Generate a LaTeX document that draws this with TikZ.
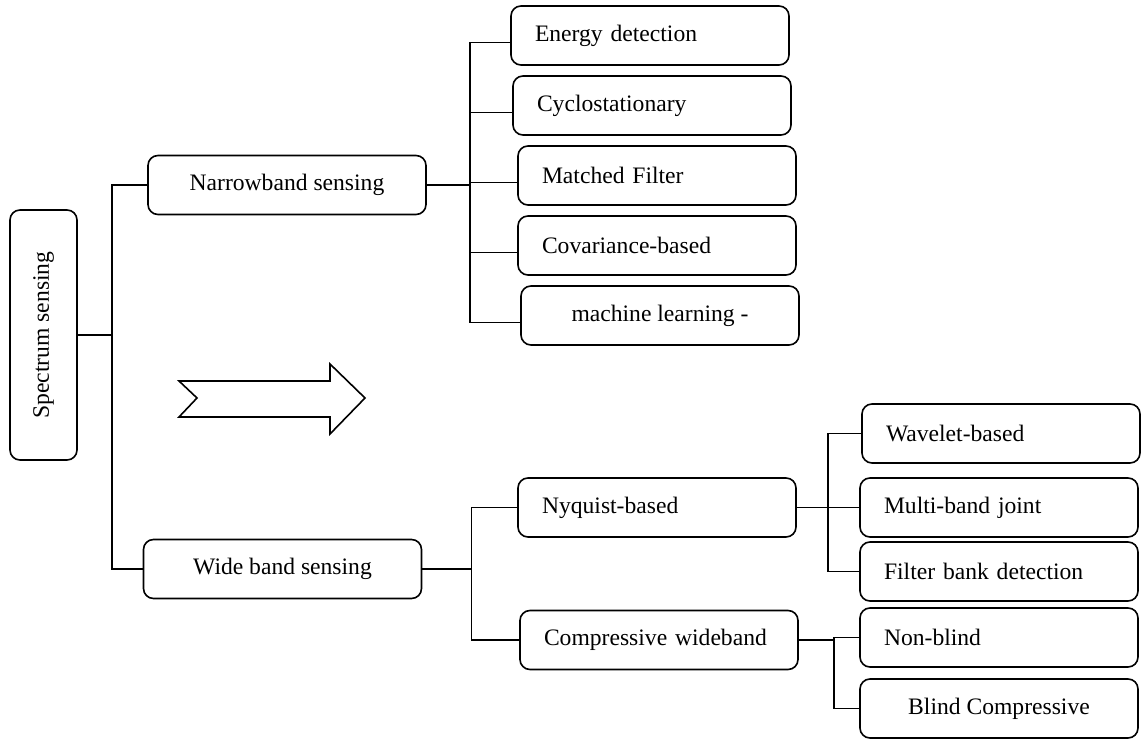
\documentclass[tikz,border=0pt]{standalone}
\usepackage{fontspec}
\setmainfont{Liberation Serif}
\usetikzlibrary{positioning}

\begin{document}
\begin{tikzpicture}[
    x=0.5pt, y=-0.5pt,
    node distance=5.5pt,
    catbox/.style={
        rectangle,
        rounded corners=5pt,
        draw,
        line width=0.8pt,
        align=center,
        minimum width=139pt,
        minimum height=29.5pt,
        inner sep=0pt,
        outer sep=0pt,
        font=\fontsize{11.8}{14}\selectfont
    },
    leafbox/.style={
        catbox,
        align=left,
        text width=115pt,
        inner xsep=12pt
    },
    link/.style={line width=0.8pt}
]
\useasboundingbox (0,0) rectangle (1145,742);

\node[catbox, minimum width=33.5pt, minimum height=125pt] (spec) at (43.5,335) {\rotatebox{90}{Spectrum sensing}};

\node[catbox] (narrow) at (287,185) {Narrowband sensing};
\node[catbox] (wide) at (282.5,569) {Wide band sensing};

% narrowband methods
\node[leafbox] (energy) at (650,35.5) {Energy detection};
\node[leafbox, below=of energy, xshift=1pt] (cyclo) {Cyclostationary};
\node[leafbox, below=of cyclo, xshift=2.5pt] (matched) {Matched Filter};
\node[leafbox, below=of matched] (covar) {Covariance-based};
\node[catbox, below=of covar, xshift=1.5pt] (mlearn) {machine learning -};

% wideband methods
\node[leafbox] (nyquist) at (657,507.5) {Nyquist-based};
\node[leafbox] (compress) at (659,640) {Compressive wideband};

\node[leafbox] (wavelet) at (1001,433.5) {Wavelet-based};
\node[leafbox, below=7.5pt of wavelet, xshift=-1pt] (multiband) {Multi-band joint};
\node[leafbox, below=2.5pt of multiband] (filterbank) {Filter bank detection};
\node[leafbox, below=3.5pt of filterbank] (nonblind) {Non-blind};
\node[catbox, below=6pt of nonblind] (blind) {Blind Compressive};

\coordinate (rootfork) at ([xshift=17.5pt]spec.east);
\coordinate (narrowfork) at ([xshift=22pt]narrow.east);
\coordinate (widefork) at ([xshift=25pt]wide.east);
\coordinate (nyqfork) at ([xshift=16pt]nyquist.east);
\coordinate (compfork) at ([xshift=18pt]compress.east);

\draw[link] (spec.east) -- (rootfork);
\draw[link] (rootfork) |- (narrow.west);
\draw[link] (rootfork) |- (wide.west);

\draw[link] (narrow.east) -- (narrowfork);
\foreach \leaf in {energy, cyclo, matched, covar, mlearn} {
    \draw[link] (narrowfork) |- ([yshift=-3.5pt]\leaf.west);
}

\draw[link] (wide.east) -- (widefork);
\draw[link] (widefork) |- (nyquist.west);
\draw[link] (widefork) |- (compress.west);

\draw[link] (nyquist.east) -- (nyqfork);
\foreach \leaf in {wavelet, multiband, filterbank} {
    \draw[link] (nyqfork) |- (\leaf.west);
}

\draw[link] (compress.east) -- (compfork);
\foreach \leaf in {nonblind, blind} {
    \draw[link] (compfork) |- (\leaf.west);
}

% block arrow
\draw[link] (179,381) -- (330,381) -- (330,364) -- (365,398) -- (330,434)
    -- (330,417) -- (179,417) -- (197,398) -- cycle;

\end{tikzpicture}
\end{document}
